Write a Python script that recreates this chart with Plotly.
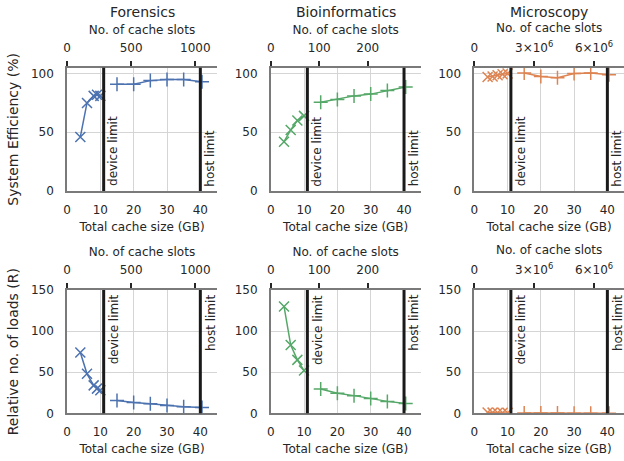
import plotly.graph_objects as go

# ---------------- data ----------------
datasets = ["Forensics", "Bioinformatics", "Microscopy"]
colors = ["#4C72B0", "#55A868", "#DD8452"]

host_x = [15, 20, 25, 30, 35, 40.5]

for_dev_x = [4, 6, 8, 9, 10]
for_dev_eff = [46, 75, 81, 82, 81]
for_dev_loads = [74, 48, 34, 30, 28]
for_host_eff = [91, 91, 94, 95, 95, 93]
for_host_loads = [15.5, 13, 11.5, 9.5, 8, 7]

bio_dev_x = [4, 6, 8, 10]
bio_dev_eff = [42, 52, 60, 64]
bio_dev_loads = [130, 83, 65, 52]
bio_host_eff = [75.5, 78, 81, 82.5, 85.5, 88.5]
bio_host_loads = [29.5, 24.5, 21.5, 18, 14.5, 12]

mic_dev_x = [4, 5.5, 7, 8.5, 10]
mic_dev_eff = [97, 97.5, 98.5, 99.5, 100]
mic_dev_loads = [1.0, 0.8, 0.7, 0.6, 0.5]
mic_host_eff = [100.5, 97.5, 96.5, 100, 100.5, 99]
mic_host_loads = [0.4, 0.3, 0.3, 0.2, 0.2, 0.2]

device_limit = 11
host_limit = 40

# GB represented by one cache slot (for the top axis)
gb_per_slot = [0.0385, 0.1455, 6.0e-6]
slot_ticks = [[0, 500, 1000], [0, 100, 200], [0, 3e6, 6e6]]
slot_ticktext = [["0", "500", "1000"], ["0", "100", "200"],
                 ["0", "3×10<sup>6</sup>", "6×10<sup>6</sup>"]]

x_ticks = [0, 10, 20, 30, 40]
eff_ticks = [0, 50, 100]
load_ticks = [0, 50, 100, 150]

dev_x = [for_dev_x, bio_dev_x, mic_dev_x]
dev_y = [[for_dev_eff, bio_dev_eff, mic_dev_eff],
         [for_dev_loads, bio_dev_loads, mic_dev_loads]]
host_y = [[for_host_eff, bio_host_eff, mic_host_eff],
          [for_host_loads, bio_host_loads, mic_host_loads]]

row_titles = ["System Efficiency (%)", "Relative no. of loads (R)"]
row_ranges = [[0, 105], [0, 150]]
row_ticks = [eff_ticks, load_ticks]

# ---------------- layout geometry ----------------
W, H = 624, 461
col_dom = [(67 / W, 217 / W), (270.7 / W, 420.7 / W), (474.3 / W, 1.0)]
row_dom = [(1 - 191 / H, 1 - 67.7 / H), (1 - 413.3 / H, 1 - 290 / H)]
xrange = [0, 45]

FONT = "DejaVu Sans"
TXT = "#262626"
GRID = "#d5d5d5"
SPINE = "#7a7a7a"


def aid(n):
    return "" if n == 1 else str(n)


fig = go.Figure()
layout = {}
annotations = []
shapes = []

for r in range(2):
    for c in range(3):
        k = r * 3 + c + 1
        xb = "x" + aid(k)
        xt = "x" + aid(k + 6)
        ya = "y" + aid(k)
        col = colors[c]
        fig.add_trace(go.Scatter(
            x=dev_x[c], y=dev_y[r][c], mode="lines+markers",
            xaxis=xb, yaxis=ya, showlegend=False,
            line=dict(color=col, width=1.5),
            marker=dict(symbol="x-thin", size=10,
                        line=dict(color=col, width=1.5))))
        fig.add_trace(go.Scatter(
            x=host_x, y=host_y[r][c], mode="lines+markers",
            xaxis=xb, yaxis=ya, showlegend=False,
            line=dict(color=col, width=1.5),
            marker=dict(symbol="cross-thin", size=10,
                        line=dict(color=col, width=1.5))))
        # empty helper trace so the top (slots) axis is drawn
        fig.add_trace(go.Scatter(
            x=[None], y=[None], mode="markers", xaxis=xt, yaxis=ya,
            showlegend=False, hoverinfo="skip"))

        layout["xaxis" + aid(k)] = dict(
            domain=col_dom[c], anchor=ya, range=xrange, automargin=False,
            tickvals=x_ticks, showgrid=True, gridcolor=GRID, gridwidth=1,
            zeroline=False, showline=True, linecolor=SPINE, linewidth=1.5,
            ticks="", ticklabelstandoff=7,
            tickfont=dict(size=12, color=TXT, family=FONT),
            title=dict(text="Total cache size (GB)", standoff=6,
                       font=dict(size=12, color=TXT, family=FONT)),
        )
        layout["xaxis" + aid(k + 6)] = dict(
            overlaying=xb, anchor=ya, side="top", range=xrange,
            automargin=False,
            tickvals=[s * gb_per_slot[c] for s in slot_ticks[c]],
            ticktext=slot_ticktext[c],
            showgrid=False, zeroline=False, showline=True,
            linecolor=SPINE, linewidth=1.5,
            ticks="outside", ticklen=5, tickwidth=1.5, tickcolor=TXT,
            ticklabelstandoff=4,
            tickfont=dict(size=12, color=TXT, family=FONT),
            title=dict(text="No. of cache slots", standoff=4,
                       font=dict(size=12, color=TXT, family=FONT)),
        )
        layout["yaxis" + aid(k)] = dict(
            domain=row_dom[r], anchor=xb, range=row_ranges[r],
            automargin=False,
            tickvals=row_ticks[r], showgrid=True, gridcolor=GRID, gridwidth=1,
            zeroline=False, showline=True, linecolor=SPINE, linewidth=1.5,
            ticks="", ticklabelstandoff=9,
            tickfont=dict(size=12, color=TXT, family=FONT),
        )
        if c == 0:
            layout["yaxis" + aid(k)]["title"] = dict(
                text=row_titles[r], standoff=9,
                font=dict(size=14, color=TXT, family=FONT))

        for lim in (device_limit, host_limit):
            shapes.append(dict(type="line", xref=xb, yref=ya + " domain",
                               x0=lim, x1=lim, y0=0, y1=1,
                               line=dict(color="#1a1a1a", width=3)))
        for lim, lab in ((device_limit, "device limit"), (host_limit, "host limit")):
            annotations.append(dict(
                xref=xb, yref=ya + " domain", x=lim, xshift=2,
                y=0.03 if r == 0 else 0.97,
                yanchor="bottom" if r == 0 else "top", xanchor="left",
                text=lab, textangle=-90, showarrow=False, borderpad=0,
                font=dict(size=12, color=TXT, family=FONT)))

        if r == 0:
            annotations.append(dict(
                xref="paper", yref="paper",
                x=(col_dom[c][0] + col_dom[c][1]) / 2 if c < 2 else (474.3 + 75) / W,
                y=1 - 12.5 / H, xanchor="center", yanchor="middle",
                text=datasets[c], showarrow=False,
                font=dict(size=14, color=TXT, family=FONT)))

fig.update_layout(
    width=W, height=H,
    margin=dict(l=0, r=0, t=0, b=0),
    paper_bgcolor="white", plot_bgcolor="white",
    font=dict(family=FONT, color=TXT),
    annotations=annotations, shapes=shapes,
    **layout,
)
fig.write_html("out.html", config={"displayModeBar": False},
               post_script="document.body.style.margin='0px';"
                           "document.body.style.overflow='hidden';")
